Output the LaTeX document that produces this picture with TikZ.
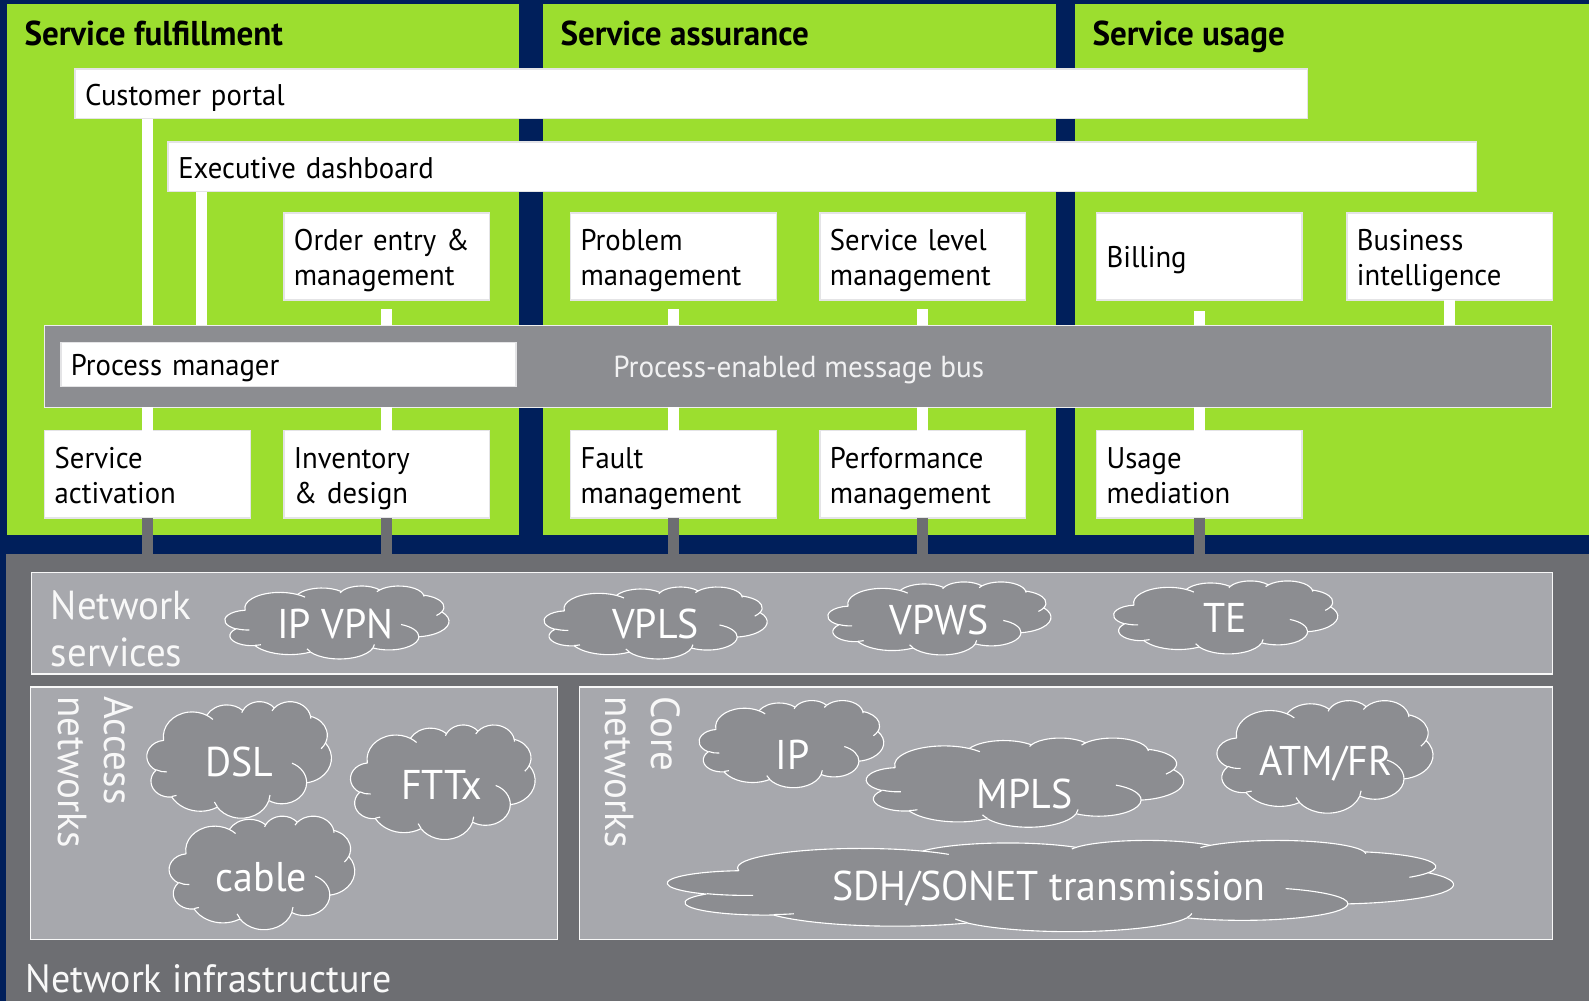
\documentclass[tikz,border=0pt]{standalone}
\usepackage{fontspec}
\setmainfont[FakeStretch=0.96]{PT Sans}
\usepackage{xcolor}
\usetikzlibrary{positioning, calc}
\definecolor{navyback}{HTML}{001F5B}
\definecolor{limegreen}{HTML}{9CDE2F}
\definecolor{slatedark}{HTML}{6D6E72}
\definecolor{slatemid}{HTML}{8C8D91}
\definecolor{slatelight}{HTML}{A7A8AD}
\definecolor{boxedge}{HTML}{E4E4E6}

% one arc of the cloud outline: x radius, y radius, start, sweep
\newcommand{\cloudarc}[4]{arc[x radius=#1, y radius=#2, start angle={cloudpar(#3,#1,#2)}, end angle={cloudpar(#3+#4,#1,#2)}]}

\tikzset{
  declare function={cloudpar(\a,\w,\h)=atan2(\w*sin(\a),\h*cos(\a))+360*round((\a-atan2(\w*sin(\a),\h*cos(\a)))/360);},
  areabox/.style={rectangle, anchor=north west, inner sep=0pt, outer sep=0pt},
  greenarea/.style={areabox, fill=limegreen, minimum height=524pt},
  netarea/.style={areabox, fill=slatelight, draw=white!92!slatelight, line width=1.5pt},
  whitebox/.style={rectangle, anchor=north west, fill=white, draw=boxedge, line width=1.5pt,
    inner xsep=10pt, inner ysep=0pt, outer sep=0pt, align=left, font=\fontsize{29.5}{34}\selectfont,
    execute at begin node={\rule{0pt}{33pt}}, execute at end node=\strut},
  areatitle/.style={anchor=base west, inner sep=0pt, font=\fontsize{34}{36}\bfseries\selectfont, text=black},
  netlabel/.style={anchor=west, inner sep=0pt, text=white!92!slatelight, align=left, font=\fontsize{40}{46}\selectfont},
  cloudlabel/.style={inner sep=0pt, text=white, font=\fontsize{41}{44}\selectfont},
  whitelink/.style={draw=white, line width=11pt},
  greylink/.style={draw=slatedark, line width=11pt},
  cloudtick/.style={draw=white, line width=1.1pt},
  netcloud/.pic={
    \path[fill=slatemid, draw=white, line width=1.1pt, line join=round] (39,143.7)
      \cloudarc{67.53}{91.90}{-190.487}{123.781} coordinate (j1)
      \cloudarc{53.33}{72.67}{-144.102}{89.945} coordinate (j2)
      \cloudarc{43.65}{59.45}{-145.808}{99.723} coordinate (j3)
      \cloudarc{48.57}{65.95}{-130.986}{117.242} coordinate (j4)
      \cloudarc{53.33}{72.73}{-78.709}{109.027} coordinate (j5)
      \cloudarc{67.75}{92.20}{-46.267}{130.269} coordinate (j6)
      \cloudarc{57.85}{78.67}{0.625}{114.033} coordinate (j7)
      \cloudarc{67.52}{92.15}{22.452}{115.173} coordinate (j8)
      \cloudarc{77.20}{105.43}{66.243}{75.711} coordinate (j9)
      \cloudarc{43.60}{59.18}{-274.942}{146.736} coordinate (j10)
      \cloudarc{43.45}{59.45}{-246.829}{152.519} -- cycle;
    \draw[cloudtick] (46.93,261.77) \cloudarc{43.45}{59.45}{86.742}{26.43};
    \draw[cloudtick] (69.28,348.99) \cloudarc{43.60}{59.18}{73.611}{11.447};
    \draw[cloudtick] (164.78,390.90) \cloudarc{67.52}{92.15}{137.624}{14.081};
    \draw[cloudtick] (288.27,347.51) \cloudarc{67.52}{92.15}{6.453}{15.998};
    \draw[cloudtick] (j6) \cloudarc{57.85}{78.67}{0.625}{-72.5};
    \draw[cloudtick] (j5) \cloudarc{53.33}{72.73}{30.318}{22};
    \draw[cloudtick] (j4) \cloudarc{48.57}{65.95}{-13.744}{10};
    \draw[cloudtick] (j3) \cloudarc{48.57}{65.95}{-130.986}{-12};
    \draw[cloudtick] (j2) \cloudarc{43.65}{59.45}{-145.808}{-10};
    \draw[cloudtick] (j1) \cloudarc{67.53}{91.90}{-66.706}{14};
  }
}

\begin{document}
\begin{tikzpicture}[x=1pt, y=-1pt]
  \useasboundingbox (0,0) rectangle (1568,988);
  \fill[navyback] (0,0) rectangle (1568,988);

  % ===== Upper areas =====
  \node[greenarea, minimum width=505pt] (fulfil) at (7,4) {};
  \node[greenarea, minimum width=506pt] (assure) at (536,4) {};
  \node[greenarea, minimum width=507pt] (usage) at (1061,4) {};
  \node[areatitle] (fulfiltitle) at (24,45) {Service fulfillment};
  \node[areatitle] (assuretitle) at (553,45) {Service assurance};
  \node[areatitle] (usagetitle) at (1078,45) {Service usage};

  % ===== Network infrastructure =====
  \node[areabox, fill=slatedark, minimum width=1562pt, minimum height=441pt] (infra) at (6,547) {};
  \node[netarea, minimum width=1501pt, minimum height=100pt] (services) at (31,565) {};
  \node[netarea, minimum width=520pt, minimum height=249pt] (access) at (30,678) {};
  \node[netarea, minimum width=960pt, minimum height=249pt] (core) at (572,678) {};
  \node[netlabel, font=\fontsize{39}{46}\selectfont] (infralabel) at (25,966) {Network infrastructure};
  \node[netlabel, anchor=north west] (serviceslabel) at (50,583) {Network\\services};
  \node[netlabel, rotate=-90, anchor=north west] (accesslabel) at (132,687) {Access\\networks};
  \node[netlabel, rotate=-90, anchor=north west] (corelabel) at (672,687) {Core\\networks};

  % Clouds, then their labels
  \foreach \name/\x/\y/\w/\h/\lx/\ly/\txt in {
      ipvpn/222/578/221/72/331/616/IP VPN, vpls/537/579/220/71/647/616/VPLS,
      vpws/817/574/220/72/927/612/VPWS, te/1099/573/221/72/1209/610/TE,
      dsl/145/692/182/115/236/752/DSL, fttx/346/715/182/113/436/775/FTTx,
      cable/167/805/183/112/258/866/cable, ip/690/691/182/86/782/745/IP,
      mpls/855/728/313/88/1011/783/MPLS, atm/1201/691/213/111/1308/754/ATM\slash FR,
      sdh/659/829/775/90/1035/877/SDH\slash SONET transmission} {
    \pic[xscale=\w/432, yscale=\h/432] at (\x,\y) {netcloud};
    \node[cloudlabel] (\name) at (\lx,\ly) {\txt};
  }

  % ===== Portal and dashboard bars =====
  \node[whitebox, minimum width=1216pt, minimum height=49pt, text width=1196pt] (portal) at (74,68) {Customer portal};
  \node[whitebox, minimum width=1291pt, minimum height=49pt, text width=1271pt] (dashboard) at (166,140) {Executive dashboard};

  % Boxes above and below the bus
  \foreach \name/\x/\y/\txt in {
      order/280/210/{Order entry \&\\management}, problem/563/210/{Problem\\management},
      sla/809/210/{Service level\\management}, billing/1082/210/{Billing},
      bi/1329/210/{Business\\intelligence}, activation/44/425/{Service\\activation},
      inventory/280/425/{Inventory\\\& design}, fault/563/425/{Fault\\management},
      perf/809/425/{Performance\\management}, mediation/1082/425/{Usage\\mediation}} {
    \node[whitebox, minimum width=203pt, minimum height=86pt, text width=183pt] (\name) at (\x,\y) {\txt};
  }

  % ===== Message bus =====
  \node[areabox, fill=slatemid, draw=white!85!slatemid, line width=1.5pt, minimum width=1487pt, minimum height=81pt] (bus) at (44,321) {};
  \node[whitebox, minimum width=449pt, minimum height=43pt, text width=429pt] (manager) at (60,338) {Process manager};
  \node[anchor=west, inner sep=0pt, text=white!88!slatemid, font=\fontsize{30}{34}\selectfont] (buslabel) at (605,365) {Process-enabled message bus};

  % ===== Links =====
  \coordinate (dashdrop) at (198.5,189);
  \draw[whitelink] (portal.south -| activation.south) -- (bus.north -| activation.south);
  \draw[whitelink] (dashdrop) -- (dashdrop |- bus.north);
  \foreach \name in {order, problem, sla} {
    \draw[whitelink, shorten <=9pt] (\name.south) -- (bus.north -| \name.south);
  }
  \draw[whitelink, shorten <=11pt] (billing.south) -- (bus.north -| billing.south);
  \draw[whitelink] (bi.south) -- (bus.north -| bi.south);
  \foreach \name in {activation, inventory, fault, perf, mediation} {
    \draw[whitelink] (bus.south -| \name.north) -- (\name.north);
    \draw[greylink] (\name.south) -- (infra.north -| \name.south);
  }
\end{tikzpicture}
\end{document}
